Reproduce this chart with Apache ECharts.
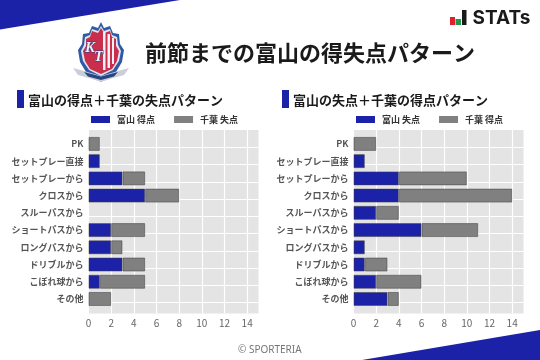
<!DOCTYPE html>
<html><head><meta charset="utf-8">
<style>html,body{margin:0;padding:0;background:#fff}#c{width:540px;height:360px}</style>
<script src="https://cdn.jsdelivr.net/npm/echarts@6/dist/echarts.min.js"></script>
</head><body><div id="c"></div>
<script>
const categories = ['PK','セットプレー直接','セットプレーから','クロスから','スルーパスから','ショートパスから','ロングパスから','ドリブルから','こぼれ球から','その他'];
const toyamaScored = [0,1,3,5,0,2,2,3,1,0];
const chibaConceded = [1,0,2,3,0,3,1,2,4,2];
const toyamaConceded = [0,1,4,4,2,6,1,1,2,3];
const chibaScored = [2,0,6,10,2,5,0,2,4,1];
const xTicks = [0,2,4,6,8,10,12,14];
const BLUE='#1c22a8', GREY='#808080';
const JP='"Noto Sans CJK JP"';
const panels=[{l:88.5,names:['富山 得点','千葉 失点'],a:toyamaScored,b:chibaConceded,lg:91},
              {l:353.5,names:['富山 失点','千葉 得点'],a:toyamaConceded,b:chibaScored,lg:356}];
const W=170;
const grids=[],xAxes=[],yAxes=[],series=[],legends=[];
panels.forEach((p,i)=>{
  // background grid: grey panel, gridlines, x tick labels
  grids.push({left:p.l,top:130,width:W,height:183.5,show:true,backgroundColor:'#e4e4e4',borderWidth:0,z:0});
  xAxes.push({gridIndex:i*2,type:'value',min:0,max:15,interval:2,position:'bottom',z:1,
    axisLine:{show:false},axisTick:{show:false},
    splitLine:{show:true,showMinLine:true,showMaxLine:false,lineStyle:{color:'#fff',width:1.2}},
    axisLabel:{color:'#666',fontSize:10,fontFamily:JP,margin:5,showMaxLabel:false,
      formatter:v=>xTicks.includes(v)?String(v):''}});
  yAxes.push({gridIndex:i*2,type:'value',inverse:true,min:-0.814,max:9.814,interval:1,z:1,
    axisLine:{show:false},axisTick:{show:false},axisLabel:{show:false},
    splitLine:{show:true,showMinLine:false,showMaxLine:false,lineStyle:{color:'#fff',width:1.2}}});
  // data grid
  grids.push({left:p.l,top:135.3,width:W,height:172.3,show:false,z:2});
  xAxes.push({gridIndex:i*2+1,type:'value',min:0,max:15,show:false});
  yAxes.push({gridIndex:i*2+1,type:'category',data:categories,inverse:true,z:2,
    axisLine:{show:false},axisTick:{show:false},splitLine:{show:false},
    axisLabel:{color:'#555',fontSize:9,fontWeight:'bold',fontFamily:JP,margin:5,interval:0}});
  [[p.a,BLUE,p.names[0]],[p.b,GREY,p.names[1]]].forEach(([d,c,n])=>series.push({
    type:'bar',name:n,stack:'s'+i,xAxisIndex:i*2+1,yAxisIndex:i*2+1,barWidth:14,z:3,
    data:d.map(v=>v===0?'-':v),
    itemStyle:{color:c,borderColor:'rgba(60,60,60,0.5)',borderWidth:1}}));
  legends.push({data:p.names,left:p.lg,top:115,itemWidth:19,itemHeight:7,itemGap:19,icon:'rect',selectedMode:false,
    itemStyle:{borderWidth:0},padding:0,
    textStyle:{fontSize:9,fontWeight:'bold',color:'#333',fontFamily:JP,padding:[1,0,0,2]}});
});
const txt=(x,y,t,fs,fw,col,fam,extra)=>({type:'text',x,y,silent:true,z:12,style:Object.assign({text:t,fontSize:fs,fontWeight:fw,fill:col,fontFamily:fam||JP,verticalAlign:'middle'},extra||{})});
const poly=(pts,fill,z)=>({type:'polygon',silent:true,z:z||9,shape:{points:pts},style:{fill}});
const rect=(x,y,w,h,fill,z)=>({type:'rect',silent:true,z:z||9,shape:{x,y,width:w,height:h},style:{fill}});
const graphic=[
  poly([[0,0],[180,0],[0,29.5]],BLUE),
  poly([[362,360],[540,330],[540,360]],BLUE),
  // STATs mark
  rect(450,17,5,8,'#e0202a'),rect(455.5,19,5.5,6,'#1f9a4a'),rect(462,10,4.5,15,'#1a1a1a'),
  txt(472.5,18.5,'STATs',19,'bold','#1a1a1a','Inter'),
  // crest
  poly([[101,22],[104,28],[110,26],[113,33],[119,34],[120,44],[124,50],[122,62],[116,72],[108,77],[101,82],[94,77],[86,72],[80,62],[78,50],[82,44],[83,34],[89,33],[92,26],[98,28]],'#2f5aa6',9),
  poly([[101,26],[104,31],[110,29],[112,35],[117,37],[118,45],[121,51],[119,61],[113,70],[101,76],[89,70],[83,61],[81,51],[84,45],[85,37],[90,35],[92,29],[98,31]],'#dfe4ee',9),
  poly([[101,28],[104,33],[110,31],[112,37],[116,39],[116,46],[119,51],[117,61],[112,69],[101,74],[90,69],[85,61],[83,51],[86,46],[86,39],[90,37],[92,31],[98,33]],'#c92f4c',9),
  rect(103,32,2.5,38,'#f2f2f6',10),rect(107.5,34,2.5,34,'#f2f2f6',10),rect(112,38,2,26,'#f2f2f6',10),
  txt(85,48,'K',15,'bold','#eef0f8','"Liberation Serif"',{fontStyle:'italic',stroke:'#2b3f8a',lineWidth:1}),
  txt(94,57,'T',15,'bold','#eef0f8','"Liberation Serif"',{fontStyle:'italic',stroke:'#2b3f8a',lineWidth:1}),
  poly([[73,68],[84,71],[101,76],[118,71],[129,68],[124,75],[113,78],[101,82],[89,78],[78,75]],'#c9ced8',11),
  poly([[84,72],[101,76.5],[118,72],[114,76.5],[101,80],[88,76.5]],'#27467f',11),
  // titles
  txt(145,53,'前節までの富山の得失点パターン',22,'bold','#1a1a1a'),
  rect(17,90,7,18,BLUE),rect(282,90,7,18,BLUE),
  txt(28,100,'富山の得点＋千葉の失点パターン',13,'bold','#1a1a1a'),
  txt(293,100,'富山の失点＋千葉の得点パターン',13,'bold','#1a1a1a'),
  txt(238,350,'© SPORTERIA',10,'normal','#777','"Noto Sans"')
];
const chart=echarts.init(document.getElementById('c'),null,{renderer:'canvas'});
chart.setOption({animation:false,backgroundColor:'#fff',grid:grids,xAxis:xAxes,yAxis:yAxes,series,legend:legends,graphic});
</script></body></html>
